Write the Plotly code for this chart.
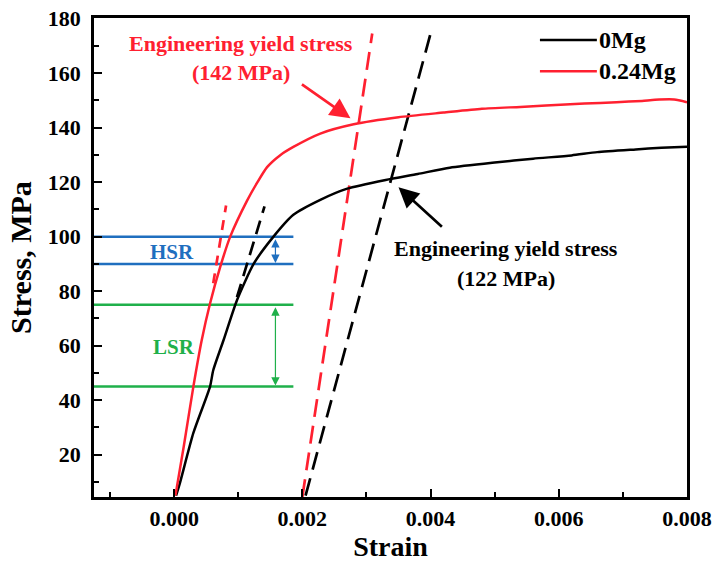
import plotly.graph_objects as go

# ---------------- data ----------------
strain_0mg = [0.00003, 0.00009, 0.0003, 0.00056, 0.00061, 0.00077, 0.00098, 0.00124, 0.00155,
              0.00186, 0.00228, 0.0027, 0.0033, 0.0038, 0.0043, 0.005, 0.0056, 0.0062, 0.0066,
              0.0072, 0.0076, 0.008]
stress_0mg = [5, 9.6, 28, 45, 51, 62, 76.7, 90, 100, 108, 113.5, 117.6, 120.8, 123, 125.3,
              127.2, 128.6, 129.8, 131, 132, 132.6, 133]

strain_024mg = [0.00002, 0.00015, 0.0003, 0.00043, 0.00056, 0.00072, 0.000875, 0.00114, 0.00130,
                0.00145, 0.00165, 0.00186, 0.00228, 0.0028, 0.0035, 0.0042, 0.0048, 0.0054,
                0.0058, 0.0064, 0.0069, 0.0073, 0.0075, 0.0078, 0.008]
stress_024mg = [5, 23, 45, 62, 75.5, 89, 100, 113.3, 120, 125.5, 129.8, 132.9, 137.8, 141.2,
                143.8, 145.5, 146.9, 147.6, 148.1, 148.8, 149.3, 149.8, 150.2, 150.3, 149.3]

# 0.2% offset lines
offset_0mg_strain = [0.00205, 0.0040]
offset_0mg_stress = [5, 174.5]
offset_024mg_strain = [0.0020, 0.00309]
offset_024mg_stress = [4.5, 174.5]

# elastic fit segments
elastic_0mg_strain = [0.00098, 0.00141]
elastic_0mg_stress = [77.8, 111.1]
elastic_024mg_strain = [0.00061, 0.00081]
elastic_024mg_stress = [82.9, 111.4]

# stress ranges
hsr_levels = [100, 90]
lsr_levels = [75, 45]
level_strain = [-0.00125, 0.00186]
range_arrow_strain = 0.00158

yield_0mg = 122
yield_024mg = 142

x_ticks = [0.0, 0.002, 0.004, 0.006, 0.008]
y_ticks = [20, 40, 60, 80, 100, 120, 140, 160, 180]

# ---------------- style ----------------
RED = '#ff2030'
BLACK = '#000000'
BLUE = '#1f6fbf'
GREEN = '#1fb04a'
FONT = 'Liberation Serif'

fig = go.Figure()

for lv in hsr_levels:
    fig.add_trace(go.Scatter(x=level_strain, y=[lv, lv], mode='lines',
                             line=dict(color=BLUE, width=2.5), showlegend=False, hoverinfo='skip'))
for lv in lsr_levels:
    fig.add_trace(go.Scatter(x=level_strain, y=[lv, lv], mode='lines',
                             line=dict(color=GREEN, width=2.5), showlegend=False, hoverinfo='skip'))

dash = '18px,9px'
fig.add_trace(go.Scatter(x=offset_024mg_strain, y=offset_024mg_stress, mode='lines',
                         line=dict(color=RED, width=2.7, dash=dash), showlegend=False))
fig.add_trace(go.Scatter(x=offset_0mg_strain, y=offset_0mg_stress, mode='lines',
                         line=dict(color=BLACK, width=2.7, dash=dash), showlegend=False))
fig.add_trace(go.Scatter(x=elastic_024mg_strain, y=elastic_024mg_stress, mode='lines',
                         line=dict(color=RED, width=2.7, dash='10px,8px'), showlegend=False))
fig.add_trace(go.Scatter(x=elastic_0mg_strain, y=elastic_0mg_stress, mode='lines',
                         line=dict(color=BLACK, width=2.7, dash='14px,8px'), showlegend=False))

fig.add_trace(go.Scatter(x=strain_0mg, y=stress_0mg, mode='lines', name='0Mg',
                         line=dict(color=BLACK, width=2.5, shape='spline', smoothing=0.6),
                         showlegend=False))
fig.add_trace(go.Scatter(x=strain_024mg, y=stress_024mg, mode='lines', name='0.24Mg',
                         line=dict(color=RED, width=2.5, shape='spline', smoothing=0.6),
                         showlegend=False))

# manual legend (line samples + labels)
legend_items = [('0Mg', BLACK, 0.954), ('0.24Mg', RED, 0.889)]
for name, col, yp in legend_items:
    fig.add_shape(type='line', xref='paper', yref='paper', x0=0.752, x1=0.848, y0=yp, y1=yp,
                  line=dict(color=col, width=2.5))
    fig.add_annotation(xref='paper', yref='paper', x=0.849, y=yp, text=name, showarrow=False,
                       xanchor='left', yanchor='middle',
                       font=dict(family=FONT, size=24, color=BLACK, weight='bold'))

# range labels
fig.add_annotation(x=-0.00004, y=94.5, text='HSR', showarrow=False,
                   font=dict(family=FONT, size=21, color=BLUE, weight='bold'))
fig.add_annotation(x=0.0, y=59.5, text='LSR', showarrow=False,
                   font=dict(family=FONT, size=21, color=GREEN, weight='bold'))

# double arrows
for lv, col in ((hsr_levels, BLUE), (lsr_levels, GREEN)):
    fig.add_annotation(x=range_arrow_strain, y=lv[1], ax=range_arrow_strain, ay=lv[0],
                       xref='x', yref='y', axref='x', ayref='y', text='', showarrow=True,
                       arrowside='end+start', arrowhead=2, startarrowhead=2,
                       arrowsize=1.4, startarrowsize=1.4, arrowwidth=1.2, arrowcolor=col,
                       standoff=1, startstandoff=1)

# yield stress annotations
fig.add_annotation(x=0.00105, y=170.8, text='Engineering yield stress', showarrow=False,
                   font=dict(family=FONT, size=22, color=RED, weight='bold'))
fig.add_annotation(x=0.00105, y=160.2, text='(%d MPa)' % yield_024mg, showarrow=False,
                   font=dict(family=FONT, size=22, color=RED, weight='bold'))
fig.add_annotation(x=0.00275, y=143.4, ax=0.00197, ay=156.2, xref='x', yref='y',
                   axref='x', ayref='y', text='', showarrow=True, arrowhead=2,
                   arrowsize=1.5, arrowwidth=2.7, arrowcolor=RED)

fig.add_annotation(x=0.00517, y=95.8, text='Engineering yield stress', showarrow=False,
                   font=dict(family=FONT, size=22, color=BLACK, weight='bold'))
fig.add_annotation(x=0.00517, y=84.8, text='(%d MPa)' % yield_0mg, showarrow=False,
                   font=dict(family=FONT, size=22, color=BLACK, weight='bold'))
fig.add_annotation(x=0.0035, y=118.1, ax=0.0042, ay=103.1, xref='x', yref='y',
                   axref='x', ayref='y', text='', showarrow=True, arrowhead=2,
                   arrowsize=1.5, arrowwidth=2.7, arrowcolor=BLACK)

axis_common = dict(showline=True, linecolor='black', linewidth=2.5, mirror=True,
                   ticks='inside', ticklen=8, tickwidth=2, tickcolor='black',
                   showgrid=False, zeroline=False, automargin=False,
                   tickfont=dict(family=FONT, size=22, color='black', weight='bold'))

fig.update_xaxes(range=[-0.00125, 0.008], tickvals=x_ticks,
                 ticktext=['%.3f' % v for v in x_ticks], ticklabelstandoff=0,
                 minor=dict(ticks='inside', ticklen=5, tickwidth=2, tickcolor='black', dtick=0.001,
                            tick0=0, showgrid=False),
                 title=dict(text='Strain', font=dict(family=FONT, size=28, color='black', weight='bold'),
                            standoff=6),
                 **axis_common)
fig.update_yaxes(range=[4.5, 180.2], tickvals=y_ticks, ticklabelstandoff=6,
                 minor=dict(ticks='inside', ticklen=5, tickwidth=2, tickcolor='black', dtick=10,
                            tick0=0, showgrid=False),
                 title=dict(text='Stress, MPa', font=dict(family=FONT, size=30, color='black', weight='bold'),
                            standoff=8),
                 **axis_common)

fig.update_layout(width=718, height=568, margin=dict(l=94, r=31, t=18, b=71),
                  plot_bgcolor='white', paper_bgcolor='white', showlegend=False)

# remove the default 8px page margin so the figure fills the window exactly
fig.write_html('out.html', config={'displayModeBar': False},
               post_script="document.body.style.margin='0';")
